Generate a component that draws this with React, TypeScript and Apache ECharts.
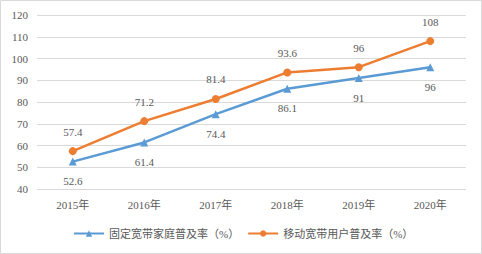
import React, { useEffect, useRef } from "react";
import * as echarts from "echarts";

const categories = ["2015年", "2016年", "2017年", "2018年", "2019年", "2020年"];
const fixedName = "固定宽带家庭普及率（%）";
const mobileName = "移动宽带用户普及率（%）";
const fixedValues = [52.6, 61.4, 74.4, 86.1, 91, 96];
const mobileValues = [57.4, 71.2, 81.4, 93.6, 96, 108];
const yTicks = { min: 40, max: 120, interval: 10 };

const FONT = "'Liberation Serif', 'DejaVu Serif', 'Noto Sans CJK SC', serif";
const TEXT = "#595959";

export default function App() {
  const ref = useRef<HTMLDivElement>(null);
  useEffect(() => {
    const chart = echarts.init(ref.current!, null, { renderer: "svg" });
    chart.setOption({
      animation: false,
      textStyle: { fontFamily: FONT },
      graphic: [
        {
          type: "rect",
          shape: { x: 0.5, y: 0.5, width: 481, height: 253 },
          style: { fill: "none", stroke: "#d9d9d9", lineWidth: 1 },
          silent: true,
        },
      ],
      grid: { left: 37, right: 16, top: 15, bottom: 65, containLabel: false },
      xAxis: {
        type: "category",
        data: categories,
        boundaryGap: true,
        axisLine: { show: false },
        axisTick: { show: false },
        axisLabel: { color: TEXT, fontSize: 11, margin: 10, fontFamily: FONT },
      },
      yAxis: {
        type: "value",
        min: yTicks.min,
        max: yTicks.max,
        interval: yTicks.interval,
        axisLine: { show: false },
        axisTick: { show: false },
        axisLabel: { color: TEXT, fontSize: 11, margin: 9, fontFamily: FONT },
        splitLine: { lineStyle: { color: "#d9d9d9", width: 1 } },
      },
      legend: {
        bottom: 10,
        left: 68,
        itemWidth: 30,
        itemHeight: 8,
        itemGap: 8,
        textStyle: { color: TEXT, fontSize: 11, fontFamily: FONT },
        data: [fixedName, mobileName],
      },
      series: [
        {
          name: fixedName,
          type: "line",
          data: fixedValues,
          symbol: "triangle",
          symbolSize: 8,
          lineStyle: { color: "#5B9BD5", width: 2.5 },
          itemStyle: { color: "#5B9BD5" },
          label: {
            show: true,
            position: "bottom",
            distance: 10,
            color: TEXT,
            fontSize: 11,
            fontFamily: FONT,
          },
        },
        {
          name: mobileName,
          type: "line",
          data: mobileValues,
          symbol: "circle",
          symbolSize: 8,
          lineStyle: { color: "#ED7D31", width: 2.5 },
          itemStyle: { color: "#ED7D31" },
          label: {
            show: true,
            position: "top",
            distance: 10,
            color: TEXT,
            fontSize: 11,
            fontFamily: FONT,
          },
        },
      ],
    });
    return () => chart.dispose();
  }, []);
  return (
    <div
      ref={ref}
      style={{ position: "fixed", left: 0, top: 0, width: 482, height: 254, background: "#fff" }}
    />
  );
}
